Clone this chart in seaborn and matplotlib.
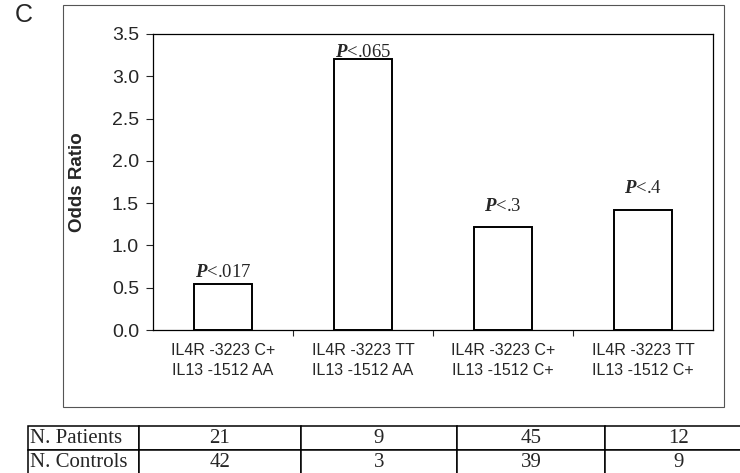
import matplotlib
matplotlib.use("Agg")
import numpy as np
import pandas as pd
import matplotlib.pyplot as plt
from matplotlib.patches import Rectangle
import seaborn as sns

# data
genotypes = ["IL4R -3223 C+\nIL13 -1512 AA", "IL4R -3223 TT\nIL13 -1512 AA",
             "IL4R -3223 C+\nIL13 -1512 C+", "IL4R -3223 TT\nIL13 -1512 C+"]
odds_ratio = [0.54, 3.2, 1.22, 1.42]
p_values = ["<.017", "<.065", "<.3", "<.4"]
row_names = ["N. Patients", "N. Controls"]
n_patients = [21, 9, 45, 12]
n_controls = [42, 3, 39, 9]

sns.set_style("white")
plt.rcParams["font.family"] = ["Liberation Sans", "DejaVu Sans"]
plt.rcParams["mathtext.fontset"] = "custom"
plt.rcParams["mathtext.it"] = "Liberation Serif:italic:bold"
plt.rcParams["mathtext.rm"] = "Liberation Serif"

W, H = 740, 473
fig = plt.figure(figsize=(W / 100, H / 100), dpi=100)


def box(x0, y0, x1, y1):
    # pixel box (from top-left) -> figure fraction rect
    return [x0 / W, 1 - y1 / H, (x1 - x0) / W, (y1 - y0) / H]


# outer frame round the chart
fig.add_artist(Rectangle((63 / W, 1 - 407 / H), (724 - 63) / W, (407 - 5) / H,
                         transform=fig.transFigure, fill=False,
                         edgecolor="#555555", linewidth=0.8))
fig.text(24 / W, 1 - 15 / H, "C", fontsize=18, ha="center", va="center")

ax = fig.add_axes(box(153, 34, 713, 330))
df = pd.DataFrame({"genotype": genotypes, "odds": odds_ratio})
sns.barplot(data=df, x="genotype", y="odds", color="white", saturation=1,
            edgecolor="black", linewidth=1.4, width=0.41, ax=ax)

# P-value labels above bars (points above bar top)
lift = [5, 1.5, 11.5, 12]
for i, (v, p, d) in enumerate(zip(odds_ratio, p_values, lift)):
    ax.annotate(r"$\it{P}$" + p, (i, v), xytext=(0, d), textcoords="offset points",
                ha="center", va="baseline", fontsize=13.5, family="Liberation Serif")

ax.set_xlim(-0.5, 3.5)
ax.set_ylim(0, 3.5)
ax.set_yticks(np.arange(0, 3.51, 0.5))
ax.set_yticklabels([f"{t:.1f}" for t in np.arange(0, 3.51, 0.5)])
ax.set_xticks(range(len(genotypes)))
ax.set_xticklabels(genotypes, linespacing=1.45)
ax.set_xticks([0.5, 1.5, 2.5], minor=True)
ax.tick_params(axis="x", which="major", length=0, pad=9, labelsize=11.5)
ax.tick_params(axis="x", which="minor", length=4, width=0.8, direction="out", bottom=True)
ax.tick_params(axis="y", length=5, width=0.8, direction="out", left=True, pad=5, labelsize=14)
ax.set_xlabel("")
ax.set_ylabel("Odds Ratio", fontsize=13.5, fontweight="bold")
ax.yaxis.set_label_coords(-0.12, 0.5)
for s in ax.spines.values():
    s.set_color("black")
    s.set_linewidth(0.9)

# counts table under the chart
tab = fig.add_axes(box(28, 426, 753, 474))
tab.axis("off")
cells = [[row_names[0]] + [str(n) for n in n_patients],
         [row_names[1]] + [str(n) for n in n_controls]]
widths = np.array([111, 162, 156, 148, 148], dtype=float)
table = tab.table(cellText=cells, colWidths=list(widths / widths.sum()),
                  cellLoc="center", bbox=[0, 0, 1, 1])
table.auto_set_font_size(False)
table.set_fontsize(15)
for (r, c), cell in table.get_celld().items():
    cell.set_linewidth(1.1)
    cell.set_edgecolor("black")
    cell.get_text().set_fontfamily("Liberation Serif")
    if c == 0:
        cell._loc = "left"
        cell.PAD = 0.02
        cell.get_text().set_horizontalalignment("left")

fig.savefig("out.png", dpi=100)
